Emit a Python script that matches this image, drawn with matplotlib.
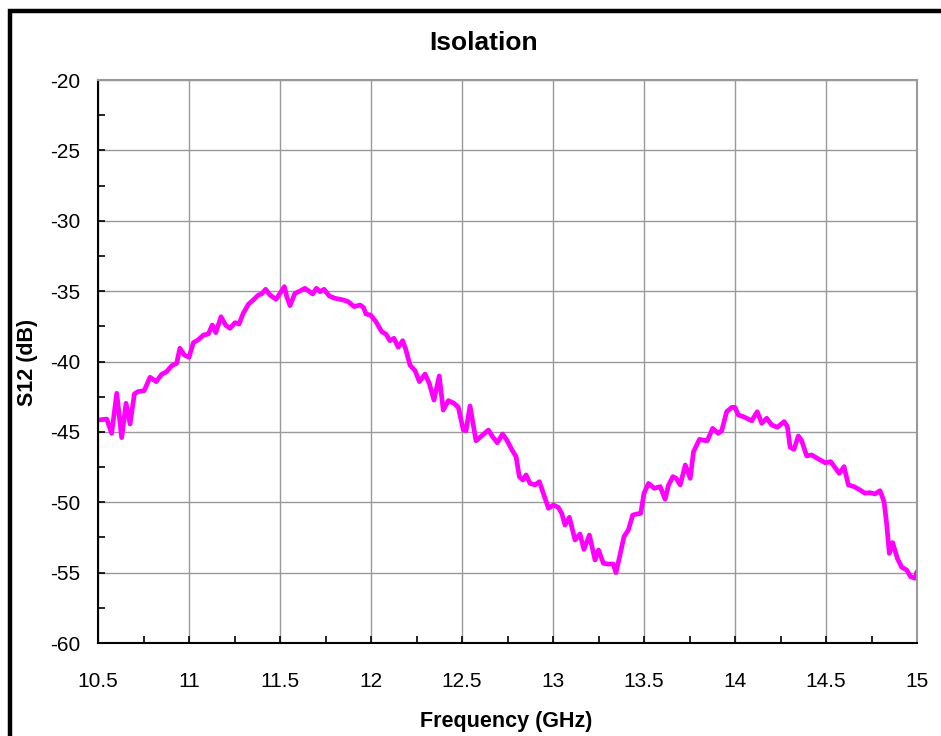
import matplotlib.pyplot as plt
import matplotlib.patches as patches
from matplotlib.ticker import MultipleLocator
import numpy as np

plt.rcParams['font.family'] = ['Liberation Sans', 'DejaVu Sans']
plt.rcParams['axes.unicode_minus'] = False

# Isolation trace (frequency in GHz, S12 in dB)
freq_ghz = [
    10.500, 10.548, 10.575, 10.603, 10.630, 10.654, 10.676, 10.700, 10.720, 10.754,
    10.786, 10.820, 10.850, 10.877, 10.905, 10.932, 10.950, 10.974, 11.000, 11.024,
    11.050, 11.079, 11.106, 11.128, 11.147, 11.176, 11.201, 11.225, 11.253, 11.275,
    11.298, 11.326, 11.353, 11.381, 11.399, 11.421, 11.445, 11.478, 11.500, 11.524,
    11.537, 11.555, 11.582, 11.610, 11.637, 11.680, 11.700, 11.720, 11.742, 11.771,
    11.802, 11.848, 11.875, 11.907, 11.940, 11.958, 11.973, 11.998, 12.027, 12.059,
    12.082, 12.104, 12.126, 12.150, 12.174, 12.192, 12.214, 12.242, 12.266, 12.297,
    12.320, 12.346, 12.375, 12.397, 12.425, 12.456, 12.480, 12.507, 12.522, 12.544,
    12.577, 12.614, 12.645, 12.668, 12.694, 12.723, 12.746, 12.773, 12.797, 12.815,
    12.834, 12.852, 12.874, 12.901, 12.925, 12.947, 12.975, 13.002, 13.029, 13.048,
    13.066, 13.090, 13.121, 13.148, 13.170, 13.200, 13.231, 13.250, 13.277, 13.305,
    13.331, 13.346, 13.368, 13.390, 13.414, 13.438, 13.463, 13.482, 13.500, 13.525,
    13.556, 13.589, 13.616, 13.635, 13.659, 13.677, 13.699, 13.727, 13.754, 13.772,
    13.805, 13.836, 13.848, 13.877, 13.908, 13.927, 13.954, 13.982, 14.000, 14.018,
    14.046, 14.092, 14.122, 14.147, 14.174, 14.202, 14.233, 14.270, 14.288, 14.303,
    14.324, 14.348, 14.366, 14.394, 14.421, 14.452, 14.495, 14.526, 14.549, 14.573,
    14.599, 14.623, 14.654, 14.687, 14.714, 14.742, 14.769, 14.797, 14.819, 14.833,
    14.848, 14.866, 14.892, 14.916, 14.943, 14.965, 14.989, 15.000,
]
s12_db = [
    -44.16, -44.09, -45.10, -42.26, -45.41, -42.97, -44.44, -42.30, -42.14, -42.07,
    -41.12, -41.43, -40.91, -40.72, -40.30, -40.13, -39.06, -39.54, -39.70, -38.66,
    -38.47, -38.12, -38.05, -37.41, -37.95, -36.82, -37.41, -37.64, -37.24, -37.34,
    -36.58, -35.94, -35.63, -35.28, -35.20, -34.87, -35.28, -35.58, -35.16, -34.68,
    -35.39, -36.03, -35.16, -34.99, -34.80, -35.20, -34.80, -35.04, -34.87, -35.35,
    -35.51, -35.63, -35.75, -36.10, -35.99, -36.15, -36.63, -36.70, -37.17, -37.88,
    -38.05, -38.52, -38.35, -38.99, -38.52, -39.18, -40.25, -40.65, -41.43, -40.89,
    -41.55, -42.74, -41.03, -43.45, -42.78, -42.97, -43.26, -44.87, -44.92, -43.16,
    -45.63, -45.22, -44.87, -45.34, -45.77, -45.15, -45.58, -46.24, -46.76, -48.18,
    -48.42, -48.06, -48.66, -48.77, -48.54, -49.36, -50.43, -50.20, -50.36, -50.79,
    -51.62, -51.07, -52.68, -52.26, -53.35, -52.33, -54.10, -53.39, -54.34, -54.39,
    -54.39, -55.00, -53.75, -52.45, -51.97, -50.91, -50.83, -50.79, -49.36, -48.66,
    -49.01, -48.89, -49.79, -48.77, -48.18, -48.30, -48.77, -47.35, -48.30, -46.41,
    -45.53, -45.62, -45.62, -44.75, -45.10, -44.92, -43.57, -43.26, -43.26, -43.80,
    -43.92, -44.21, -43.57, -44.39, -44.03, -44.51, -44.67, -44.27, -44.63, -46.10,
    -46.24, -45.29, -45.62, -46.71, -46.64, -46.88, -47.19, -47.12, -47.52, -47.95,
    -47.47, -48.77, -48.89, -49.13, -49.36, -49.32, -49.41, -49.18, -49.96, -51.50,
    -53.63, -52.87, -53.98, -54.62, -54.81, -55.29, -55.40, -54.93,
]

x_ticks = [10.5, 11, 11.5, 12, 12.5, 13, 13.5, 14, 14.5, 15]
x_tick_labels = ['10.5', '11', '11.5', '12', '12.5', '13', '13.5', '14', '14.5', '15']
y_ticks = [-60, -55, -50, -45, -40, -35, -30, -25, -20]

fig = plt.figure(figsize=(9.41, 7.36), dpi=100)
ax = fig.add_axes([98 / 941, 1 - 643 / 736, (917 - 98) / 941, (643 - 80) / 736])

# black chart frame (cut off on the right and bottom like the reference)
frame = patches.Rectangle((10 / 941, -0.05), 1.2, 1 - 11 / 736 + 0.05,
                          transform=fig.transFigure, fill=False,
                          edgecolor='black', linewidth=3.2, clip_on=False)
fig.patches.append(frame)

ax.plot(freq_ghz, s12_db, color='#FF00FF', linewidth=3.4,
        solid_joinstyle='round', solid_capstyle='round')

ax.set_xlim(10.5, 15)
ax.set_ylim(-60, -20)
ax.set_xticks(x_ticks)
ax.set_xticklabels(x_tick_labels)
ax.set_yticks(y_ticks)
ax.xaxis.set_minor_locator(MultipleLocator(0.25))
ax.yaxis.set_minor_locator(MultipleLocator(2.5))

ax.grid(True, which='major', color='#999999', linewidth=1.0)
ax.set_axisbelow(True)

ax.tick_params(axis='both', which='both', direction='in', labelsize=15,
               colors='black', width=1.2)
ax.tick_params(axis='both', which='major', length=5)
ax.tick_params(axis='both', which='minor', length=5)
ax.tick_params(axis='y', pad=13)
ax.tick_params(axis='x', pad=21)

for side in ['left', 'bottom']:
    ax.spines[side].set_color('black')
    ax.spines[side].set_linewidth(1.5)
for side in ['top', 'right']:
    ax.spines[side].set_color('#999999')
    ax.spines[side].set_linewidth(1.5)

fig.text(484 / 941, 1 - 43 / 736, 'Isolation', ha='center', va='center',
         fontsize=19, fontweight='bold')
fig.text(506 / 941, 1 - 722 / 736, 'Frequency (GHz)', ha='center', va='center',
         fontsize=15.5, fontweight='bold')
fig.text(28 / 941, 1 - 362 / 736, 'S12 (dB)', ha='center', va='center',
         rotation=90, fontsize=15.5, fontweight='bold')

fig.savefig('out.png', dpi=100)
